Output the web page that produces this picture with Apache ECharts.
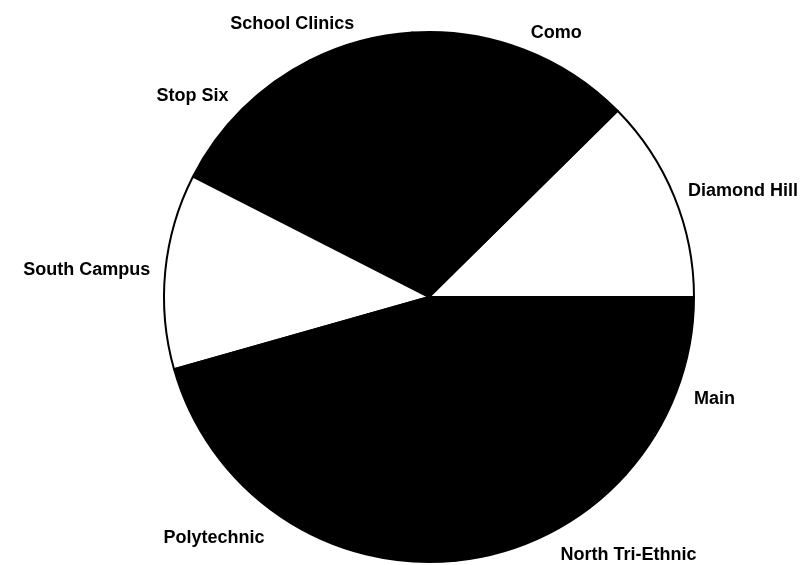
<!DOCTYPE html>
<html lang="en">
<head>
    <meta charset="UTF-8">
    <title>Clinic Pie</title>
    <script src="https://cdn.jsdelivr.net/npm/echarts@6.0.0/dist/echarts.min.js"></script>
    <style>
        html, body { margin: 0; padding: 0; background: #fff; }
    </style>
</head>
<body>
<div id="chart1" style="width: 802px;height:565px;"></div>

<script>
    // slices, counter-clockwise from 3 o'clock (percent of total)
    var categories = ['Diamond Hill', 'Como', 'School Clinics', 'Stop Six', 'South Campus', 'Polytechnic', 'North Tri-Ethnic', 'Main'];
    var values = [12.4, 13.6, 6.4, 10.1, 11.9, 22.2, 11.7, 11.7];
    var fills = ['#ffffff', '#000000', '#000000', '#000000', '#ffffff', '#000000', '#000000', '#000000'];
    // how far each label sits out from the rim
    var labelGaps = [14, 18, 18, 18, 14, 26, 24, 18];

    var chartDom = document.getElementById('chart1');
    var myChart = echarts.init(chartDom);
    var option = {
        animation: false,
        backgroundColor: '#fff',
        series: [{
            type: 'pie',
            center: [429, 297],
            radius: 265,
            startAngle: 0,
            clockwise: false,
            avoidLabelOverlap: false,
            itemStyle: {
                borderColor: '#000',
                borderWidth: 2
            },
            label: {
                show: true,
                position: 'outside',
                color: '#000',
                fontFamily: 'Liberation Sans',
                fontWeight: 'bold',
                fontSize: 18,
                distanceToLabelLine: 1
            },
            labelLine: {
                show: false,
                length: 18,
                length2: 0
            },
            emphasis: { disabled: true },
            data: categories.map(function (name, i) {
                return {
                    name: name,
                    value: values[i],
                    itemStyle: { color: fills[i] },
                    labelLine: { length: labelGaps[i], length2: 0 }
                };
            })
        }]
    };
    myChart.setOption(option);
</script>
</body>
</html>
